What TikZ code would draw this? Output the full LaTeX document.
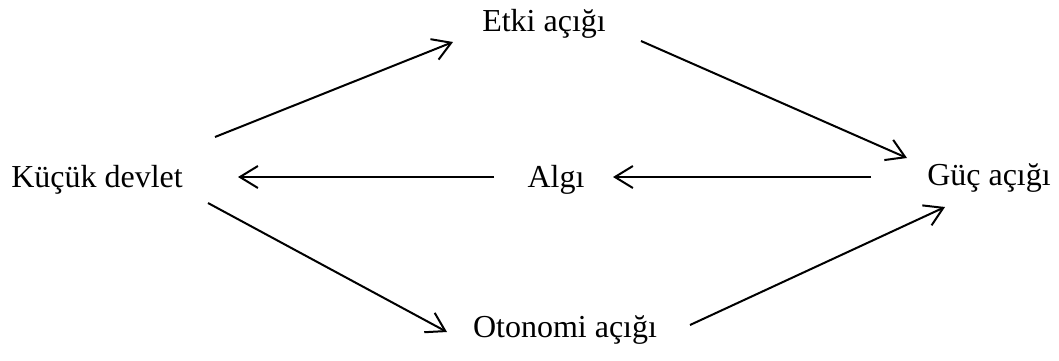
\documentclass[tikz,border=0pt]{standalone}
\usepackage{fontspec}
\setmainfont{Liberation Serif}
\usetikzlibrary{arrows.meta,calc}
\begin{document}
\begin{tikzpicture}[x=1pt,y=-1pt,
  lbl/.style={anchor=base,inner sep=0pt,font=\fontsize{32}{38}\selectfont},
  arr/.style={line width=2pt,-{Straight Barb[length=18pt,width=22pt,line width=2pt]}}]
\useasboundingbox (0,0) rectangle (1059,360);
\node[lbl] (k) at (97,187) {Küçük devlet};
\node[lbl] (e) at (544,31) {Etki açığı};
\node[lbl] (g) at (989,185) {Güç açığı};
\node[lbl] (a) at (556,187) {Algı};
\node[lbl] (o) at (565,337) {Otonomi açığı};
\draw[arr] ($(k.base)+(118,-50)$) -- ($(e.base)+(-91,11)$);
\draw[arr] ($(e.base)+(97,10)$) -- ($(g.base)+(-82,-27)$);
\draw[arr] ($(g.base)+(-118,-8)$) -- ($(a.base)+(57,-10)$);
\draw[arr] ($(a.base)+(-62,-10)$) -- ($(k.base)+(141,-10)$);
\draw[arr] ($(k.base)+(111,16)$) -- ($(o.base)+(-118,-5)$);
\draw[arr] ($(o.base)+(125,-12)$) -- ($(g.base)+(-44,22)$);
\end{tikzpicture}
\end{document}
